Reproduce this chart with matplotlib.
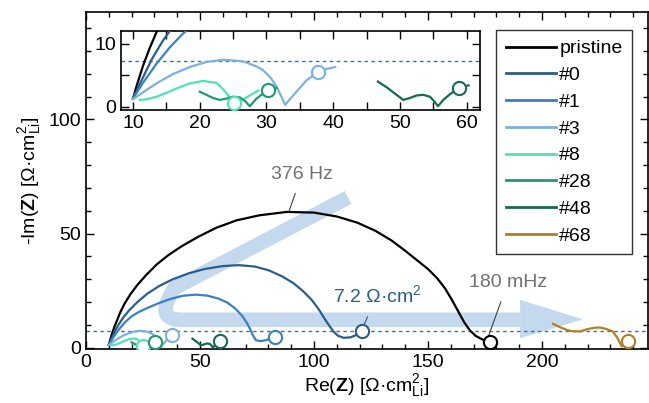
import matplotlib
matplotlib.use("Agg")
import matplotlib.pyplot as plt
from matplotlib.path import Path
from matplotlib.patches import PathPatch, Polygon
from matplotlib.ticker import MultipleLocator

plt.rcParams['font.family'] = ['Liberation Sans', 'DejaVu Sans']
plt.rcParams['mathtext.fontset'] = 'custom'
plt.rcParams['mathtext.rm'] = 'Liberation Sans'
plt.rcParams['mathtext.bf'] = 'Liberation Sans:bold'
plt.rcParams['mathtext.it'] = 'Liberation Sans:italic'

labels = ['pristine', '#0', '#1', '#3', '#8', '#28', '#48', '#68']
colors = ['#000000', '#2b5d8c', '#3a80c3', '#7db0df', '#4fe3b4', '#1f9a70', '#176b4d', '#b47f22']

re_pristine = [10, 10.6, 11.5, 12.5, 13.6, 15, 17, 19.5, 22.5, 26.5, 31, 36, 42, 49, 57, 66, 76, 88,
               100, 110, 119, 127, 134, 140, 145, 150, 154, 157.5, 160.5, 163.5, 166, 168.5, 171, 174, 177]
im_pristine = [1.3, 3.5, 6.5, 9.3, 12, 15.5, 19.5, 23.5, 27.5, 32, 36.5, 40.5, 44.5, 48.5, 52.5, 55.8, 58, 59.5,
               59.2, 57.5, 54.8, 51.2, 47, 42.5, 38.5, 34.5, 30.5, 26, 21, 15.5, 11, 7.5, 5.2, 3.6, 2.6]

re_0 = [10, 11.2, 12.8, 14.5, 16.5, 19, 22.5, 27, 32, 38, 45, 52, 60, 67, 74, 80, 86, 91, 95, 99,
        102, 104.5, 106.5, 108.5, 110.5, 113, 116, 118.5, 121]
im_0 = [1.3, 4, 7.5, 10.5, 13.5, 16.5, 20, 23.8, 27, 30, 32.6, 34.5, 35.8, 36.2, 35.6, 34, 31.3, 28.3, 25, 21,
        17, 13, 10, 7.2, 5.3, 4.4, 4.6, 5.6, 7.2]

re_1 = [10, 11.5, 13.5, 15.5, 17.5, 20, 23, 27, 32, 37, 42.5, 48, 53, 58, 62, 65.5, 68.5, 70.5, 72,
        73.2, 74.5, 76.5, 79, 81, 83]
im_1 = [1.3, 3.8, 6.8, 9.4, 11.6, 13.8, 15.6, 17.5, 19.6, 21.4, 22.8, 23.3, 22.9, 21.6, 19.8, 17.2, 14, 11, 8.2,
        5.5, 3.4, 2.9, 3.4, 4.0, 4.8]

re_3 = [10, 11.5, 13.5, 16, 18.5, 21, 23.5, 26.5, 28.5, 29.5, 30.7, 31.5, 32.3, 32.8, 33.5, 34.5, 36, 37.7, 39, 40.3]
im_3 = [1.2, 2.3, 3.7, 5.2, 6.3, 7.1, 7.45, 7.2, 6.4, 5.8, 4.5, 3.2, 1.5, 0.3, 1.2, 2.4, 4.2, 5.5, 6.0, 6.3]

re_8 = [11, 12, 13.5, 15, 16.5, 18.5, 20.5, 22.5, 23.5, 24.5, 25.2, 26.5, 27.5, 28.8]
im_8 = [1.1, 1.2, 1.6, 2.2, 2.9, 3.7, 4.1, 3.8, 2.8, 1.5, 0.6, 1.2, 1.8, 2.6]

re_28 = [20, 21, 22, 23, 24, 25, 26, 26.8, 27.5, 28.5, 29.5, 30.3, 31.5]
im_28 = [2.4, 1.9, 1.4, 1.1, 1.3, 1.6, 1.5, 0.9, 0.1, 1.3, 2.1, 2.6, 3.0]

re_48 = [46.7, 48, 49.5, 50.5, 51.5, 52.5, 53.5, 54.5, 55.2, 55.7, 56.5, 57.5, 58.8, 60.3]
im_48 = [4.0, 3.1, 1.9, 1.1, 1.4, 1.8, 1.9, 1.6, 0.8, 0.1, 1.1, 2.0, 3.0, 3.4]

re_68 = [204.8, 208, 210.8, 213, 216.7, 220, 223, 225.4, 228, 231, 233, 235, 236.5, 237.7]
im_68 = [10.5, 9, 7.9, 7.3, 7.2, 8.2, 8.8, 8.9, 8.3, 7.2, 4.5, 0.6, 2.0, 2.8]

# 180 mHz marker points
marker_re = [177, 121, 83, 37.7, 25.2, 30.3, 58.8, 237.7]
marker_im = [2.6, 7.2, 4.8, 5.5, 0.6, 2.6, 3.0, 2.8]

series_re = [re_pristine, re_0, re_1, re_3, re_8, re_28, re_48, re_68]
series_im = [im_pristine, im_0, im_1, im_3, im_8, im_28, im_48, im_68]

r_ohm = 7.2

fig = plt.figure(figsize=(6.49, 4.03), dpi=100)
ax = fig.add_axes([86/649, 1 - 349/403, 562/649, 337/403])

# big light-blue arrow (guide)
arrow_col = '#c4d9ee'
verts = [(114.9, 65.8), (39.0, 26.3), (28.9, 11.4), (43.4, 12.3), (190.4, 12.3)]
codes = [Path.MOVETO, Path.LINETO, Path.CURVE3, Path.CURVE3, Path.LINETO]
ax.add_patch(PathPatch(Path(verts, codes), fill=False, edgecolor=arrow_col, lw=10.5,
                       capstyle='butt', joinstyle='round', zorder=0.5))
ax.add_patch(Polygon([(190.4, 21.0), (218.0, 12.5), (190.4, 4.2)], closed=True,
                     facecolor=arrow_col, edgecolor='none', zorder=0.5))

ax.axhline(r_ohm, color='#3d6f9f', lw=1.0, ls=(0, (2.5, 2.5)), zorder=1)

for xs, ys, c, lab, mx, my in zip(series_re, series_im, colors, labels, marker_re, marker_im):
    ax.plot(xs, ys, color=c, lw=1.6, label=lab, zorder=3)
    ax.plot([mx], [my], 'o', ms=9.5, mfc='white', mec=c, mew=1.5, zorder=4)

ax.set_xlim(0, 246.5)
ax.set_ylim(-0.5, 147)
ax.xaxis.set_major_locator(MultipleLocator(50))
ax.xaxis.set_minor_locator(MultipleLocator(10))
ax.yaxis.set_major_locator(MultipleLocator(50))
ax.yaxis.set_minor_locator(MultipleLocator(10))
ax.tick_params(which='both', direction='in', top=True, right=True, labelsize=14)
ax.tick_params(which='major', length=6, width=1)
ax.tick_params(which='minor', length=3.5, width=1)
for s in ax.spines.values():
    s.set_linewidth(1.2)
ax.set_xlabel(r'Re($\mathbf{Z}$) [Ω·cm$^{2}_{\mathrm{Li}}$]', fontsize=14, labelpad=1)
ax.set_ylabel(r'-Im($\mathbf{Z}$) [Ω·cm$^{2}_{\mathrm{Li}}$]', fontsize=14, labelpad=4)

gray = '#707070'
ax.annotate('376 Hz', xy=(89, 59.6), xytext=(94.7, 76), color=gray, fontsize=14,
            ha='center', va='center',
            arrowprops=dict(arrowstyle='-', color='#404040', lw=0.8, shrinkA=6, shrinkB=0))
ax.annotate('180 mHz', xy=(176.3, 4.5), xytext=(185, 28.5), color=gray, fontsize=14,
            ha='center', va='center',
            arrowprops=dict(arrowstyle='-', color='#404040', lw=0.8, shrinkA=6, shrinkB=0))
ax.annotate('7.2 Ω·cm$^2$', xy=(121.5, 9.0), xytext=(127.6, 23), color=colors[1], fontsize=14,
            ha='center', va='center',
            arrowprops=dict(arrowstyle='-', color=colors[1], lw=0.8, shrinkA=6, shrinkB=0))

leg = ax.legend(loc='upper left', bbox_to_anchor=((496 - 86) / 562, 1 - (30 - 12) / 337),
                frameon=True, fancybox=False, edgecolor='black', fontsize=14,
                handlelength=2.6, handletextpad=0.15, labelspacing=0.47, borderpad=0.5,
                borderaxespad=0)
leg.get_frame().set_linewidth(1.0)
for h in leg.get_lines():
    h.set_linewidth(2.0)

# inset
axi = fig.add_axes([121/649, 1 - 110/403, 359/649, 79/403])
axi.axhline(r_ohm, color='#3d6f9f', lw=1.0, ls=(0, (2.5, 2.5)), zorder=1)
for xs, ys, c, mx, my in zip(series_re, series_im, colors, marker_re, marker_im):
    axi.plot(xs, ys, color=c, lw=1.6, zorder=3)
    axi.plot([mx], [my], 'o', ms=9.5, mfc='white', mec=c, mew=1.5, zorder=4)
axi.set_xlim(8.2, 62)
axi.set_ylim(-0.5, 12.0)
axi.xaxis.set_major_locator(MultipleLocator(10))
axi.xaxis.set_minor_locator(MultipleLocator(5))
axi.yaxis.set_major_locator(MultipleLocator(10))
axi.yaxis.set_minor_locator(MultipleLocator(5))
axi.tick_params(which='both', direction='in', top=True, right=True, labelsize=14)
axi.tick_params(which='major', length=6, width=1)
axi.tick_params(which='minor', length=6, width=1)
for s in axi.spines.values():
    s.set_linewidth(1.2)

fig.savefig('out.png', dpi=100)
